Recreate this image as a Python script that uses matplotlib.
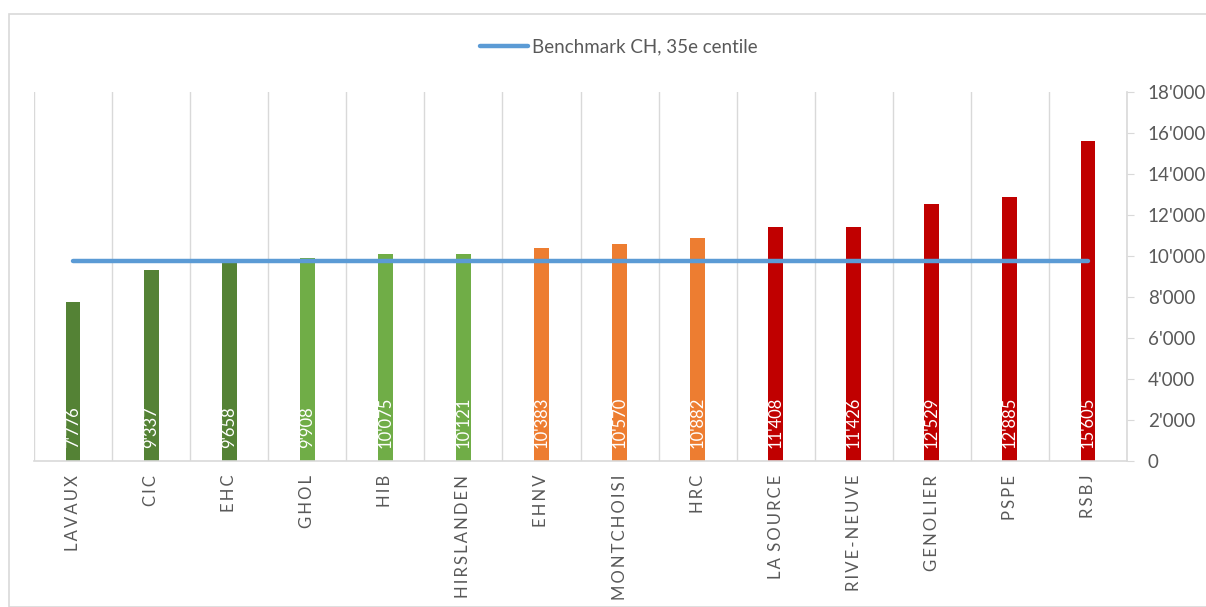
import matplotlib
matplotlib.use("Agg")
import matplotlib.pyplot as plt
from matplotlib.patches import Rectangle
from matplotlib.lines import Line2D
import numpy as np

categories = ["LAVAUX", "CIC", "EHC", "GHOL", "HIB", "HIRSLANDEN", "EHNV",
              "MONTCHOISI", "HRC", "LA SOURCE", "RIVE-NEUVE", "GENOLIER", "PSPE", "RSBJ"]
values = [7776, 9337, 9658, 9908, 10075, 10121, 10383, 10570, 10882, 11408,
          11426, 12529, 12885, 15605]
groups = ["dg", "dg", "dg", "lg", "lg", "lg", "or", "or", "or", "rd", "rd", "rd", "rd", "rd"]
benchmark = 9750
benchmark_label = "Benchmark CH, 35e centile"
yticks = [0, 2000, 4000, 6000, 8000, 10000, 12000, 14000, 16000, 18000]

palette = {"dg": "#548235", "lg": "#70AD47", "or": "#ED7D31", "rd": "#C00000"}
text_gray = "#595959"
grid_gray = "#D9D9D9"

def fmt(v):
    s = f"{v:,}".replace(",", "'")
    return s

def spaced(s):
    return "\u2009".join(list(s)).replace("\u2009 \u2009", "\u2009\u2009\u2009")

plt.rcParams['font.family'] = ['Lato', 'DejaVu Sans']

W, H = 1206, 607
fig = plt.figure(figsize=(W / 100, H / 100), dpi=100)
fig.patch.set_facecolor("white")

# outer chart border
fig.patches.append(Rectangle((9 / W, 0), 1.2, (H - 14) / H, transform=fig.transFigure,
                             fill=False, edgecolor=grid_gray, linewidth=1.2))

x0, x1 = 34, 1127
y0, y1 = 461, 92
ax = fig.add_axes([x0 / W, 1 - y0 / H, (x1 - x0) / W, (y0 - y1) / H])
n = len(categories)
x = np.arange(n)
ax.set_xlim(-0.5, n - 0.5)
ax.set_ylim(0, 18000)

# vertical gridlines at category boundaries
for b in np.arange(-0.5, n, 1.0):
    ax.axvline(b, color=grid_gray, linewidth=1.0, zorder=0)

ax.bar(x, values, width=0.19, color=[palette[g] for g in groups], zorder=2)

ax.plot([x[0], x[-1]], [benchmark, benchmark], color="#5B9BD5", linewidth=3.2,
        solid_capstyle="round", zorder=3)

for xi, v in zip(x, values):
    ax.text(xi, 650, fmt(v), rotation=90, ha="center", va="bottom", color="white",
            fontsize=12, zorder=4)

for s in ["top", "left"]:
    ax.spines[s].set_visible(False)
ax.spines["bottom"].set_color(grid_gray)
ax.spines["right"].set_color(grid_gray)
ax.spines["bottom"].set_linewidth(1.2)
ax.spines["right"].set_linewidth(1.2)

ax.yaxis.tick_right()
ax.set_yticks(yticks)
ax.set_yticklabels([fmt(t) for t in yticks], fontsize=13.5, color=text_gray)
ax.tick_params(axis="y", length=5, color=grid_gray, pad=10)

ax.set_xticks(x)
ax.set_xticklabels([spaced(c) for c in categories], rotation=90, fontsize=12,
                   color=text_gray, va="top", ha="center")
ax.tick_params(axis="x", length=0, pad=10)

# legend
handle = Line2D([0], [0], color="#5B9BD5", linewidth=3.2, solid_capstyle="round")
fig.legend([handle], [benchmark_label], loc="center", bbox_to_anchor=(0.513, 1 - 47 / H),
           frameon=False, fontsize=13.5, handlelength=2.6, handletextpad=0.2,
           labelcolor=text_gray)

fig.savefig("out.png", dpi=100)
